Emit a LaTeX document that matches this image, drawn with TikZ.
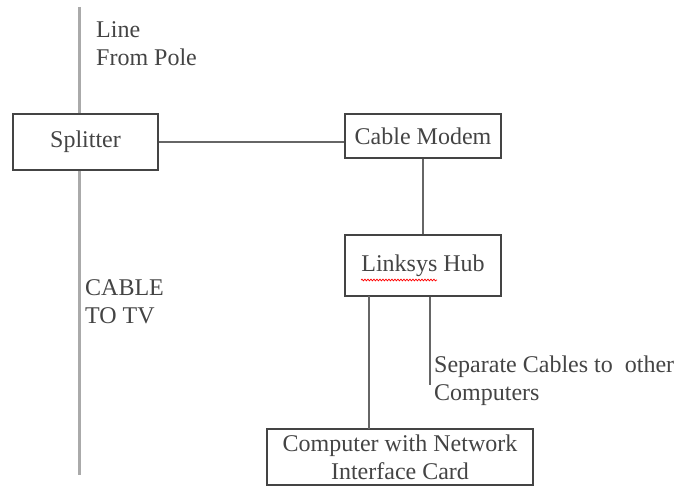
\documentclass[tikz,border=0pt]{standalone}
\usepackage{fontspec}
\setmainfont{Liberation Serif}
\usepackage{xcolor}
\usetikzlibrary{positioning, decorations.pathmorphing}

\definecolor{inkgray}{HTML}{444444}
\definecolor{wiregray}{HTML}{666666}
\definecolor{polegray}{HTML}{AAAAAA}

\tikzset{
  devbox/.style={draw=inkgray, line width=1.5pt, rectangle, inner sep=0pt, text=inkgray},
  wire/.style={draw=wiregray, line width=2pt},
  note/.style={text=inkgray, align=left, inner sep=0pt, anchor=base west}
}

\begin{document}
\begin{tikzpicture}[x=1pt, y=-1pt, font=\fontsize{24}{28}\selectfont]
    \useasboundingbox (0,0) rectangle (692,487);

    % Boxes
    \node[devbox, minimum width=145pt, minimum height=56pt] (splitter) at (85.5,142) {Splitter};
    \node[devbox, minimum width=156pt, minimum height=44pt] (modem) at (423,136) {Cable Modem};
    \node[devbox, minimum width=156pt, minimum height=61pt] (hub) at (423,265.5) {Linksys Hub};
    \node[devbox, minimum width=266pt, minimum height=56pt, align=center] (pc) at (400,457)
        {Computer with Network\\Interface Card};

    % Line from pole and cable to TV
    \coordinate (poletop) at (79,7);
    \coordinate (tvend) at (79,475);
    \draw[draw=polegray, line width=3pt] (poletop) -- (poletop |- splitter.north);
    \draw[draw=polegray, line width=3pt] (tvend |- splitter.south) -- (tvend);

    % Connectors
    \draw[wire] (splitter.east) -- (modem.west |- splitter.east);
    \draw[wire] (modem.south) -- (hub.north);
    \draw[wire] (369,296) -- (369,429);
    \coordinate (othersend) at (430,385);
    \draw[wire] (othersend |- hub.south) -- (othersend);

    % Spell check squiggle
    \draw[red, line width=0.7pt, decorate, decoration={snake, amplitude=0.9pt, segment length=3pt}]
        (361,280) -- (437,280);

    % Labels
    \node[note] (polelbl) at (96,65) {Line\\From Pole};
    \node[note] (tvlbl) at (85,323) {CABLE\\TO TV};
    \node[note] (otherslbl) at (434,400) {Separate Cables to\ \ other\\Computers};
\end{tikzpicture}
\end{document}
